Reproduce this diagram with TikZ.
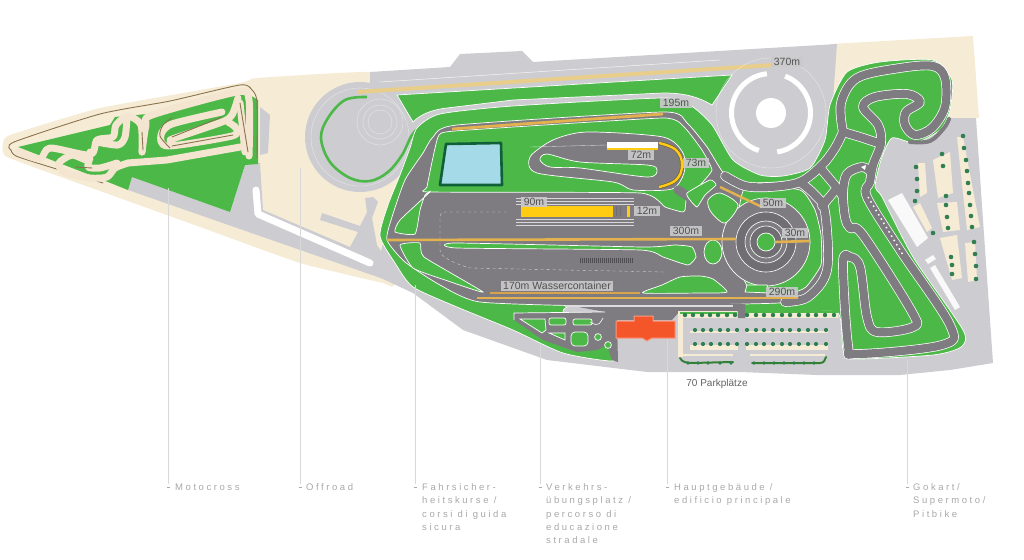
\documentclass[tikz,border=0pt]{standalone}
\usepackage{fontspec}
\setmainfont{Liberation Sans}
\newfontfamily\tagfont[LetterSpace=27]{Liberation Sans}
\definecolor{creamc}{HTML}{F6ECD6}
\definecolor{sitec}{HTML}{CDCDD1}
\definecolor{grassc}{HTML}{4CB848}
\definecolor{asph}{HTML}{7E7C80}
\definecolor{asphd}{HTML}{706E72}
\definecolor{trackc}{HTML}{F3E5CF}
\definecolor{brownc}{HTML}{8A7350}
\definecolor{sandc}{HTML}{E8CE8A}
\definecolor{ochre}{HTML}{E3B24F}
\definecolor{barc}{HTML}{FFCC11}
\definecolor{pondc}{HTML}{A5DAE8}
\definecolor{pondb}{HTML}{0F5F38}
\definecolor{dotc}{HTML}{2F7F50}
\definecolor{orangec}{HTML}{F4562A}
\definecolor{boxc}{HTML}{CACACC}
\definecolor{tagc}{HTML}{A8A8A8}
\definecolor{linec}{HTML}{D8D8D8}
\tikzset{
  isle/.style={fill=grassc,draw=white,line width=.7pt},
  dist/.style={fill=boxc,fill opacity=.9,text opacity=1,text=black!68,font=\fontsize{10.5}{12}\selectfont,inner xsep=2.5pt,inner ysep=1.5pt},
  tagtext/.style={text=tagc,anchor=north west,align=left,inner sep=0pt,font=\fontsize{9.5}{13.3}\selectfont\tagfont},
  leader/.style={draw=linec,line width=.6pt},
  dotmark/.style={fill=dotc,draw=none},
  moto/.style={draw=trackc,line width=7pt,line cap=round,line join=round},
  brownl/.style={draw=brownc,line width=.9pt,line cap=round},
  faint/.style={draw=white,line width=.4pt,opacity=.5},
}
\newcommand{\kartnet}[1]{%
  \draw[#1] plot[smooth,tension=.55] coordinates {(725,176)(745,186)(770,187)(800,182)(822,165)(835,148)(843,132)};
  \draw[#1] plot[smooth,tension=.55] coordinates {(843,132)(841,103)(857,78)(900,68)(933,66)(945,78)(945,107)(932,128)(915,135)(905,125)(906,112)(920,102)(907,94)(875,97)(863,107)(878,125)(881,143)(873,165)(870,182)(867,197)(900,250)(950,325)(942,345)(857,354)(848,345)(843,263)(850,257)(860,267)(867,317)(877,332)(913,327)(912,312)(863,235)(850,228)(845,217)(843,193)(847,174)(862,167)(871,172)};
  \draw[#1] plot[smooth,tension=.55] coordinates {(843,132)(860,137)(878,143)};
  \draw[#1] plot[smooth,tension=.55] coordinates {(822,170)(837,188)(843,197)};
  \draw[#1] plot[smooth,tension=.55] coordinates {(837,188)(822,206)};
  \draw[#1] plot[smooth,tension=.55] coordinates {(800,182)(815,195)(825,212)(827,270)(808,297)(785,302)};
}
\begin{document}
\begin{tikzpicture}[x=1pt,y=-1pt]
\useasboundingbox (0,0) rectangle (1024,559);
% ---- ground
\fill[creamc] plot[smooth cycle,tension=.25] coordinates {(3,143)(10,135)(100,108)(240,83)(257,78)(370,72)(420,90)(420,200)(395,284)(383,283)(300,263)(200,227)(100,191)(7,157)};
\fill[creamc] (830,44)--(973,36)--(979,118)--(950,120)--(830,110)--cycle;
\fill[sitec] (370,72)--(450,67)--(460,54)--(522,51)--(533,62)--(837,44)--(833,100)--(945,118)--(976,118)--(983,220)--(993,363)--(950,370)--(900,375)--(817,375)--(740,372)--(647,372)--(547,360)--(463,330)--(413,293)--(383,279)--(377,265)--(384,240)--(388,215)--(396,190)--(414,150)--(412,125)--(395,95)--(370,85)--cycle;
\fill[sitec] (128,190)--(132,177)--(230,212)--(245,165)--(260,163)--(263,210)--(350,247)--(358,232)--(320,220)--(322,213)--(360,226)--(367,212)--(365,198)--(373,197)--(378,202)--(372,218)--(377,245)--(388,262)--(392,282)--cycle;
\fill[sitec] (260,107)--(270,115)--(268,153)--(260,155)--cycle;
\draw[white,line width=7pt,line cap=round,line join=round] (256,190)--(258,214)--(370,263);
\fill[sitec] (360,137) circle (55pt);
\foreach \r in {12,17,23} \draw[faint] (380,122) circle (\r pt);
\draw[faint] (360,137) circle (49pt);
\draw[white,line width=.5pt,opacity=.8] (380,82)--(720,60);
% ---- motocross
\fill[grassc] (18,147)--(110,125)--(115,117)--(147,114)--(230,95)--(245,92)--(258,100)--(258,164)--(245,165)--(230,212)--(132,177)--(128,190)--(103,180)--cycle;
\draw[brownl] plot[smooth,tension=.4] coordinates {(11,150)(14,142)(100,114)(170,101)(240,85)(252,90)(257,102)(257,158)};
\draw[brownl] plot[smooth,tension=.4] coordinates {(11,150)(16,156)(50,167)(103,183)};
\draw[moto] plot[smooth,tension=.45] coordinates {(18,152)(40,159)(50,148)(90,155)(97,140)(113,137)(116,125)(128,116)(141,125)(142,152)};
\draw[moto] plot[smooth,tension=.45] coordinates {(142,152)(146,125)(152,115)(237,92)(249,100)(249,156)};
\draw[moto] (240,103)--(245,152);
\draw[moto] plot[smooth,tension=.45] coordinates {(238,98)(232,115)(222,122)(178,137)(170,140)};
\draw[moto] plot[smooth,tension=.45] coordinates {(222,112)(172,124)(161,135)(168,146)(232,136)(236,128)(228,122)};
\draw[moto] (246,146)--(167,160)--(128,163);
\draw[moto] plot[smooth,tension=.45] coordinates {(128,163)(115,168)(107,177)(90,178)(64,172)(59,163)(72,155)(87,160)(90,152)};
\draw[moto] plot[smooth,tension=.45] coordinates {(90,158)(88,167)(100,168)(117,163)};
\draw[moto] plot[smooth,tension=.45] coordinates {(97,142)(118,145)(125,137)(127,118)};
\draw[brownl] (172,137)--(222,117);
\draw[brownl] (172,146)--(233,135);
\draw[brownl] plot[smooth,tension=.5] coordinates {(172,118)(163,125)(160,136)(170,148)};
\draw[brownl] (240,103)--(248,152);
\draw[brownl] (142,132)--(143,150);
\draw[brownl] (75,167)--(92,168);
% ---- green arc at the left circle and green fields
\draw[grassc,line width=2.6pt] plot[smooth,tension=.6] coordinates {(367,97)(345,100)(328,118)(321,138)(330,162)(350,178)(370,181)(388,172)(402,155)(412,135)(422,125)};
\fill[isle] (397,95)--(732,75)--(712,105) .. controls (695,95) and (680,93) .. (663,93)--(513,100)--(447,108) .. controls (430,110) and (420,115) .. (413,122)--cycle;
\fill[isle] plot[smooth cycle,tension=.4] coordinates {(417,128)(440,114)(513,106)(663,98)(690,105)(712,125)(733,160)(760,175)(783,176)(810,168)(825,140)(830,105)(847,72)(880,62)(933,60)(952,80)(950,110)(940,130)(915,143)(892,138)(881,160)(875,187)(882,197)(913,257)(963,330)(961,347)(933,355)(853,359)(843,350)(838,313)(800,313)(745,315)(735,306)(600,300)(563,312)(612,350)(612,361)(563,353)(513,330)(457,307)(413,287)(395,263)(380,236)(388,205)(400,175)(410,148)};
% ---- asphalt
\fill[asph,draw=white,line width=.7pt] plot[smooth cycle,tension=.35] coordinates {(387,240)(392,217)(405,180)(423,153)(433,137)(457,125)(663,112)(687,123)(707,147)(725,175)(745,183)(800,183)(827,210)(830,270)(805,300)(745,304)(600,306)(480,302)(440,285)(405,262)};
\fill[asph] (563,304)--(745,304)--(745,318)--(738,318)--(738,311)--(680,311)--(672,320)--(617,320)--(618,362)--(612,360)--(607,345)--(597,350)--(577,352)--(543,340)--(514,320)--(514,313)--(605,312)--cycle;
\draw[white,line width=.7pt] (514,320)--(514,313)--(605,312);
% ---- green islands
\fill[isle] plot[smooth cycle,tension=.25] coordinates {(438,137)(455,131)(663,118)(685,128)(702,150)(712,170)(700,185)(687,195)(685,210)(682,212)(665,207)(640,193)(430,192)(427,187)};
\fill[asph,draw=white,line width=.7pt] plot[smooth cycle,tension=.45] coordinates {(530,157)(553,140)(587,132)(663,137)(683,153)(684,173)(672,189)(633,190)(613,182)(537,173)};
\draw[asph,line width=9pt,line cap=round] (678,190)--(694,200)--(712,215);
\fill[isle] plot[smooth cycle,tension=.5] coordinates {(540,160)(547,154)(580,162)(647,165)(657,170)(647,177)(580,168)(550,167)};
\fill[isle] plot[smooth cycle,tension=.3] coordinates {(687,193)(710,180)(716,185)(705,195)(697,207)(690,200)};
\fill[isle] plot[smooth cycle,tension=.3] coordinates {(430,192)(400,220)(395,232)(415,234)(420,210)(425,195)};
\fill[isle] plot[smooth cycle,tension=.3] coordinates {(400,245)(420,243)(424,257)(483,292)(445,280)(413,268)};
\fill[isle] plot[smooth cycle,tension=.3] coordinates {(455,243)(643,247)(675,245)(692,247)(696,257)(688,265)(663,257)(640,250)(457,248)};
\fill[isle] (713,252) ellipse (9pt and 12pt);
\fill[isle] plot[smooth cycle,tension=.35] coordinates {(643,293)(662,285)(680,277)(700,276)(713,279)(727,292)(700,293)};
% circle course
\fill[isle] plot[smooth cycle,tension=.3] coordinates {(745,187)(800,190)(815,210)(821,235)(821,265)(806,287)(790,293)(750,290)(735,250)};
\fill[asph,draw=white,line width=.7pt] (766,242) circle (44pt);
\fill[isle] plot[smooth cycle,tension=.5] coordinates {(708,200)(720,193)(738,205)(725,223)(711,212)};
\fill[isle] (745,292)--(747,285)--(767,285)--(770,293)--cycle;
\fill[asphd] (766,242) circle (30pt);
\fill[asph] (766,242) circle (21pt);
\fill[asphd] (766,242) circle (16pt);
\foreach \r in {30,21,16} \draw[white,line width=.6pt] (766,242) circle (\r pt);
\fill[isle] (766,242) circle (9pt);
% asphalt markings
\foreach \yy in {198,201,204,219,222,225} \draw[white,line width=.35pt,opacity=.7] (516,\yy)--(634,\yy);
\draw[white,line width=.35pt,opacity=.7,dashed] (507,212)--(445,212) .. controls (440,212) and (440,215) .. (440,222)--(440,250) .. controls (440,256) and (450,262) .. (470,268)--(665,272);
\foreach \xx in {580,582,...,632} \draw[asphd!70!black,line width=.8pt] (\xx,258)--(\xx,263);
\draw[white,line width=.35pt,opacity=.7] (530,147)--(607,145);
% ---- kart network
\kartnet{draw=white,line width=9.6pt,line cap=round,line join=round}
\kartnet{draw=asph,line width=8.2pt,line cap=round,line join=round}
\draw[asph,line width=4pt,line cap=round] plot[smooth,tension=.6] coordinates {(910,142)(930,141)(944,128)(949,119)};
\draw[white,line width=1.5pt,dash pattern=on 1.5pt off 3.5pt] (868,197)--(903,255);
\fill[white] (861,167)--(866,165)--(865,170)--cycle;
% ---- pond
\draw[fill=pondc,draw=pondb,line width=2.6pt,line join=round] (446,144)--(501,143)--(502,185)--(440,185)--cycle;
% ---- distance bars
\draw[sandc,line width=4pt] (357,92)--(773,65);
\draw[ochre,line width=2.8pt] (452,129)--(663,114);
\draw[ochre,line width=2.6pt] (387,240)--(736,239);
\draw[ochre,line width=2.6pt] (775,242)--(810,241);
\draw[ochre,line width=2.6pt] (477,298)--(798,298);
\draw[ochre!70!brown,line width=2pt] (490,293)--(640,293);
\draw[ochre,line width=2.4pt] (720,187)--(762,207);
\fill[barc] (521,206) rectangle (613,217);
\fill[barc] (627,206) rectangle (630,217);
\draw[asphd,line width=.6pt] (616,207)--(616,216) (620,207)--(620,216);
\fill[barc] (607,146) rectangle (658,149.5);
\fill[white] (607,142) rectangle (658,147.5);
\draw[brownc!80!black,line width=3.6pt] plot[smooth,tension=.7] coordinates {(659,143)(676,150)(682,165)(676,180)(659,187)};
\draw[barc,line width=2.4pt] plot[smooth,tension=.7] coordinates {(659,143)(676,150)(682,165)(676,180)(659,187)};
\fill[sitec!70!white] (565,304.5) rectangle (733,307);
% ---- right circle
\draw[faint] (771,113) circle (55pt);
\fill[white] (771,113) circle (15pt);
\draw[white,line width=5pt,shift={(771,113)}] (96:39.5pt) arc[start angle=96,end angle=252,radius=39.5pt];
\draw[white,line width=5pt,shift={(771,113)}] (69:39.5pt) arc[start angle=69,end angle=-81,radius=39.5pt];
% ---- traffic garden
\fill[isle] (520,319)--(545,319)--(546,330)--(542,333)--cycle;
\fill[isle,rounded corners=2pt] (549,318) rectangle (566,325);
\fill[isle,rounded corners=2pt] (573,319) rectangle (592,325);
\draw[white,line width=.6pt] (590,322)..controls (600,328) and (600,322)..(603,318);
\fill[isle] (549,333)--(565,333)--(565,340)--cycle;
\fill[isle,rounded corners=4pt] (571,332) rectangle (588,346);
\fill[isle] (598,337) circle (3.4pt);
\fill[isle] (608,345) circle (3.4pt);
% ---- main building
\fill[orangec,draw=orangec!60!white,line width=1pt] (616,321)--(634,321)--(634,316)--(653,316)--(653,321)--(675,321)--(675,338)--(652,338)--(647,341)--(642,338)--(616,338)--cycle;
% ---- parking
\fill[creamc] (678,311) rectangle (683,357);
\fill[creamc] (678,311) rectangle (737,318);
\fill[creamc] (746,311) rectangle (838,318);
\fill[creamc] (690,345) rectangle (738,350);
\fill[creamc] (746,345) rectangle (828,350);
\fill[creamc] (690,331) rectangle (738,333);
\fill[creamc] (746,331) rectangle (828,333);
\fill[creamc] (683,354) rectangle (733,356);
\fill[creamc] (750,354) rectangle (825,356);
\draw[grassc,line width=2pt] (680,312.5)--(737,312.5) (746,312)--(838,312);
\foreach \x in {685,693,702,710,718,727,735,747,756,764,773,782,790,799,808,816,825,834} \fill[dotmark] (\x,315) circle (2.2pt);
\foreach \x in {695,703,711,720,728,737,747,756,764,773,782,790,799,808,816,826} {\fill[dotmark] (\x,330) circle (2.1pt); \fill[dotmark] (\x,344) circle (2.1pt);}
\draw[grassc!70!black,line width=2pt,line cap=round] (680,358)..controls (682,362) and (686,363)..(692,363)--(733,362);
\draw[grassc!70!black,line width=2pt,line cap=round] (752,363)--(820,363)..controls (824,363) and (825,360)..(826,357);
\foreach \x in {688,698,708,720,731,754,764,774,784,794,804,814} \fill[dotmark] (\x,363) circle (1.9pt);
% ---- right buildings and trees
\fill[white!88!sitec] (888,200)--(902,193)--(928,238)--(917,247)--cycle;
\fill[white!88!sitec] (930,268)--(935,265)--(960,307)--(955,310)--cycle;
\fill[white!88!sitec] (925,260)--(933,255)--(936,259)--(928,264)--cycle;
\fill[creamc] (918,163)--(925,163)--(927,193)--(920,197)--cycle;
\fill[creamc] (933,160)--(950,152)--(953,193)--(938,198)--cycle;
\fill[creamc] (957,137)--(963,137)--(980,227)--(967,230)--cycle;
\fill[creamc] (937,203)--(957,202)--(960,230)--(943,232)--cycle;
\fill[creamc] (940,238)--(957,235)--(962,278)--(952,280)--cycle;
\fill[creamc] (965,243)--(975,242)--(977,280)--(968,282)--cycle;
\fill[creamc] (913,207)--(920,203)--(932,228)--(927,232)--cycle;
\foreach \p in {(963,136),(964,148),(966,160),(967,171),(968,183),(969,193),(970,205),(971,216),(972,227),(942,154),(943,166),(916,167),(917,179),(917,191),(915,201),(946,196),(946,205),(947,217),(948,228),(933,233),(951,257),(952,265),(952,274),(974,242),(975,254),(976,266),(976,279)} \fill[dotmark] \p circle (2.3pt);
% ---- distance labels
\node[dist] (d370) at (787,62) {370m};
\node[dist] (d195) at (676,103) {195m};
\node[dist] (d72) at (641,155) {72m};
\node[dist] (d73) at (696,163) {73m};
\node[dist] (d90) at (534,202) {90m};
\node[dist] (d12) at (647,211) {12m};
\node[dist] (d50) at (773,203) {50m};
\node[dist] (d300) at (686,231) {300m};
\node[dist] (d30) at (795,233) {30m};
\node[dist] (dwater) at (557,286) {170m Wassercontainer};
\node[dist] (d290) at (782,292) {290m};
\node[text=black!62,font=\fontsize{10}{12}\selectfont] (park) at (717,384) {70 Parkplätze};
% ---- tags
\node[tagtext] (t1) at (175,483.5) {Motocross};
\node[tagtext] (t2) at (306,483.5) {Offroad};
\node[tagtext] (t3) at (422,483.5) {Fahrsicher-\\heitskurse /\\corsi di guida\\sicura};
\node[tagtext] (t4) at (546,483.5) {Verkehrs-\\übungsplatz /\\percorso di\\educazione\\stradale};
\node[tagtext] (t5) at (674,483.5) {Hauptgebäude /\\edificio principale};
\node[tagtext] (t6) at (913,483.5) {Gokart/\\Supermoto/\\Pitbike};
\foreach \n/\x/\y in {t1/168.5/188,t2/300.5/168,t3/415.5/285,t4/540.5/345,t5/667.5/339,t6/907.5/360} {
  \coordinate (top\n) at (\x,\y);
  \coordinate (end\n) at (\x,484);
  \draw[leader] (top\n)--(end\n);
  \draw[draw=tagc,line width=.5pt] (\x-1.5,487)--(\x+1.5,487);
}
\end{tikzpicture}
\end{document}
